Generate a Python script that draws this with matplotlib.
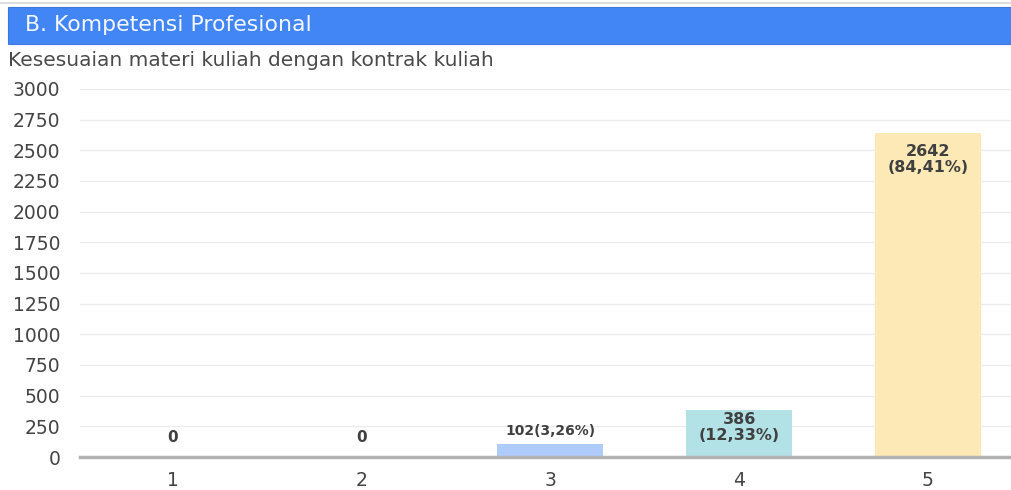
import matplotlib.pyplot as plt
from matplotlib.patches import Rectangle

plt.rcParams['font.family'] = ['DejaVu Sans']

# data
categories = ['1', '2', '3', '4', '5']
values = [0, 0, 102, 386, 2642]
labels = ['0', '0', '102(3,26%)', '386\n(12,33%)', '2642\n(84,41%)']
colors = ['#aecbfa', '#aecbfa', '#aecbfa', '#b2e2e6', '#fde9b6']
yticks = [0, 250, 500, 750, 1000, 1250, 1500, 1750, 2000, 2250, 2500, 2750, 3000]

fig = plt.figure(figsize=(10.11, 4.9), dpi=100)

# header band
fig.patches.append(Rectangle((8 / 1011, 1 - 44 / 490), 1 - 8 / 1011, 37 / 490,
                             transform=fig.transFigure, facecolor='#4285f4',
                             edgecolor='#3b78e0', linewidth=0.8, zorder=0))
fig.text(25 / 1011, 1 - 25 / 490, 'B. Kompetensi Profesional', color='#f4f7fe',
         fontsize=15.8, va='center', ha='left')
fig.text(8 / 1011, 1 - 61 / 490, 'Kesesuaian materi kuliah dengan kontrak kuliah',
         color='#4a4a4a', fontsize=14.5, va='center', ha='left')
fig.add_artist(plt.Line2D([0, 1], [1 - 3 / 490, 1 - 3 / 490], color='#dddddd',
                          linewidth=1.5, transform=fig.transFigure))

ax = fig.add_axes([80 / 1011, 1 - 457 / 490, 1 - 80 / 1011, 368 / 490])
x = list(range(1, len(categories) + 1))
ax.bar(x, values, width=0.56, color=colors, zorder=2)

for xi, v, lab in zip(x, values, labels):
    if v > 300:
        off = -8 if v > 1000 else -1.5
        ax.annotate(lab, (xi, v), xytext=(0, off), textcoords='offset points',
                    ha='center', va='top', fontsize=11.5, fontweight='bold',
                    color='#404040', linespacing=1.1, zorder=3)
    else:
        ax.annotate(lab, (xi, v), xytext=(0, 5 if v > 0 else 9),
                    textcoords='offset points', ha='center', va='bottom',
                    fontsize=10 if v > 0 else 11, fontweight='bold',
                    color='#404040', zorder=3)

ax.set_xlim(0.51, 5.44)
ax.set_ylim(0, 3000)
ax.set_yticks(yticks)
ax.set_xticks(x)
ax.set_xticklabels(categories)
ax.tick_params(axis='both', length=0, labelsize=13.5, colors='#444444')
ax.tick_params(axis='y', pad=14)
ax.tick_params(axis='x', pad=10)
ax.grid(axis='y', color='#ebebeb', linewidth=1, zorder=0)
for s in ['top', 'right', 'left']:
    ax.spines[s].set_visible(False)
ax.spines['bottom'].set_color('#b3b3b3')
ax.spines['bottom'].set_linewidth(2.5)
ax.spines['bottom'].set_zorder(4)

plt.savefig('out.png', dpi=100)
